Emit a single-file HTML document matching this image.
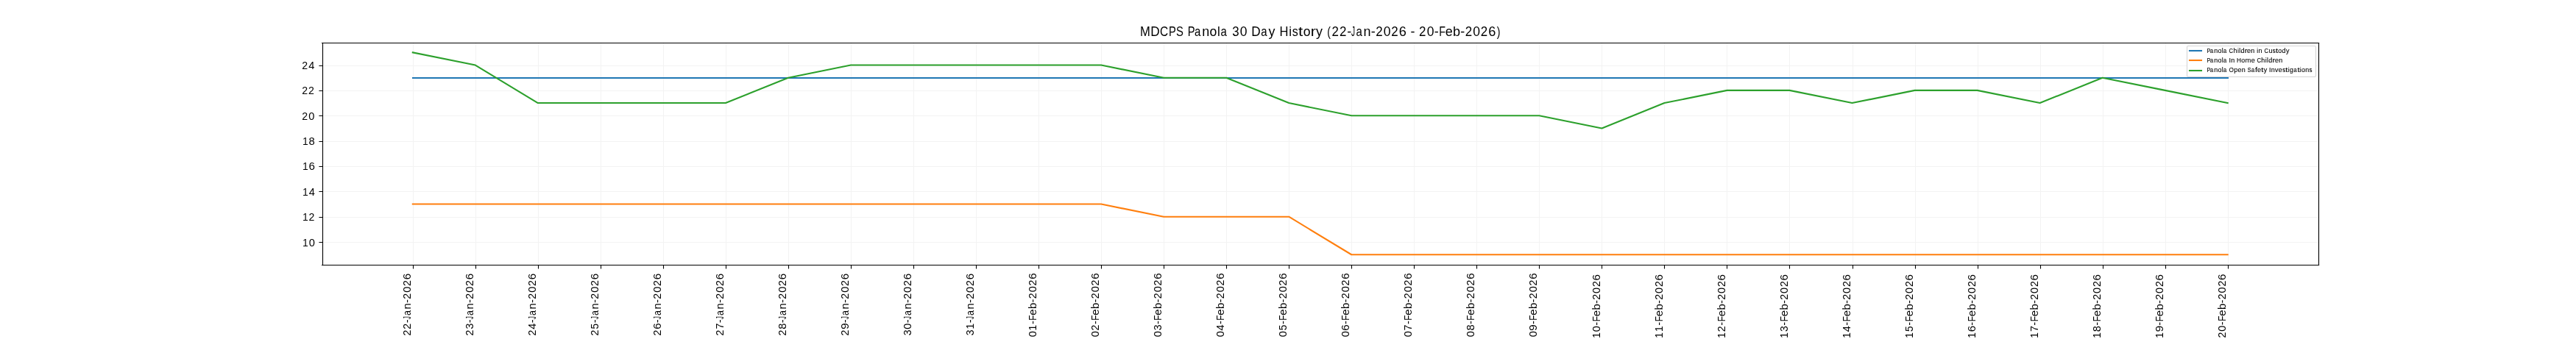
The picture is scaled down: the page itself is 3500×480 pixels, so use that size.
<!DOCTYPE html><html><head><meta charset="utf-8"><style>html,body{margin:0;padding:0;background:#fff;width:3500px;height:480px;overflow:hidden}svg{display:block;will-change:transform}text{font-family:"Liberation Sans",sans-serif;fill:#000}</style></head><body>
<svg width="3500" height="480" viewBox="0 0 3500 480">
<rect x="0" y="0" width="3500" height="480" fill="#fff"/>
<path d="M561.5 57.6V360.0M646.5 57.6V360.0M731.5 57.6V360.0M816.5 57.6V360.0M901.5 57.6V360.0M986.5 57.6V360.0M1071.5 57.6V360.0M1156.5 57.6V360.0M1241.5 57.6V360.0M1326.5 57.6V360.0M1411.5 57.6V360.0M1496.5 57.6V360.0M1581.5 57.6V360.0M1666.5 57.6V360.0M1751.5 57.6V360.0M1836.5 57.6V360.0M1921.5 57.6V360.0M2006.5 57.6V360.0M2091.5 57.6V360.0M2176.5 57.6V360.0M2261.5 57.6V360.0M2346.5 57.6V360.0M2431.5 57.6V360.0M2517.5 57.6V360.0M2602.5 57.6V360.0M2687.5 57.6V360.0M2772.5 57.6V360.0M2857.5 57.6V360.0M2942.5 57.6V360.0M3027.5 57.6V360.0M437.5 329.5H3150.0M437.5 295.5H3150.0M437.5 260.5H3150.0M437.5 226.5H3150.0M437.5 192.5H3150.0M437.5 157.5H3150.0M437.5 123.5H3150.0M437.5 89.5H3150.0" stroke="#f3f3f3" stroke-width="1.11" fill="none"/>
<path d="M561.00 106.00 L646.00 106.00 L731.00 106.00 L816.00 106.00 L901.00 106.00 L986.00 106.00 L1071.00 106.00 L1156.00 106.00 L1241.00 106.00 L1326.00 106.00 L1411.00 106.00 L1496.00 106.00 L1581.00 106.00 L1666.00 106.00 L1751.00 106.00 L1836.00 106.00 L1921.00 106.00 L2006.00 106.00 L2091.00 106.00 L2176.00 106.00 L2261.00 106.00 L2346.00 106.00 L2431.00 106.00 L2517.00 106.00 L2602.00 106.00 L2687.00 106.00 L2772.00 106.00 L2857.00 106.00 L2942.00 106.00 L3027.00 106.00" stroke="#1f77b4" stroke-width="2.083" fill="none" stroke-linejoin="round" stroke-linecap="square"/>
<path d="M560.80 277.53 L645.83 277.53 L730.86 277.53 L815.89 277.53 L900.92 277.53 L985.95 277.53 L1070.98 277.53 L1156.01 277.53 L1241.05 277.53 L1326.08 277.53 L1411.11 277.53 L1496.14 277.53 L1581.17 294.71 L1666.20 294.71 L1751.23 294.71 L1836.27 346.25 L1921.30 346.25 L2006.33 346.25 L2091.36 346.25 L2176.39 346.25 L2261.42 346.25 L2346.45 346.25 L2431.49 346.25 L2516.52 346.25 L2601.55 346.25 L2686.58 346.25 L2771.61 346.25 L2856.64 346.25 L2941.67 346.25 L3026.70 346.25" stroke="#ff7f0e" stroke-width="2.083" fill="none" stroke-linejoin="round" stroke-linecap="square"/>
<path d="M560.80 71.35 L645.83 88.53 L730.86 140.07 L815.89 140.07 L900.92 140.07 L985.95 140.07 L1070.98 105.71 L1156.01 88.53 L1241.05 88.53 L1326.08 88.53 L1411.11 88.53 L1496.14 88.53 L1581.17 105.71 L1666.20 105.71 L1751.23 140.07 L1836.27 157.25 L1921.30 157.25 L2006.33 157.25 L2091.36 157.25 L2176.39 174.44 L2261.42 140.07 L2346.45 122.89 L2431.49 122.89 L2516.52 140.07 L2601.55 122.89 L2686.58 122.89 L2771.61 140.07 L2856.64 105.71 L2941.67 122.89 L3026.70 140.07" stroke="#2ca02c" stroke-width="2.083" fill="none" stroke-linejoin="round" stroke-linecap="square"/>
<path d="M437 58.5H3151.2M437 360.5H3151.2M438.5 57.9V361.1M3150.5 57.9V361.1" stroke="#000" stroke-width="1.11" fill="none"/>
<path d="M561.5 360.5V365.4M646.5 360.5V365.4M731.5 360.5V365.4M816.5 360.5V365.4M901.5 360.5V365.4M986.5 360.5V365.4M1071.5 360.5V365.4M1156.5 360.5V365.4M1241.5 360.5V365.4M1326.5 360.5V365.4M1411.5 360.5V365.4M1496.5 360.5V365.4M1581.5 360.5V365.4M1666.5 360.5V365.4M1751.5 360.5V365.4M1836.5 360.5V365.4M1921.5 360.5V365.4M2006.5 360.5V365.4M2091.5 360.5V365.4M2176.5 360.5V365.4M2261.5 360.5V365.4M2346.5 360.5V365.4M2431.5 360.5V365.4M2517.5 360.5V365.4M2602.5 360.5V365.4M2687.5 360.5V365.4M2772.5 360.5V365.4M2857.5 360.5V365.4M2942.5 360.5V365.4M3027.5 360.5V365.4M438 329.5H433.4M438 295.5H433.4M438 260.5H433.4M438 226.5H433.4M438 192.5H433.4M438 157.5H433.4M438 123.5H433.4M438 89.5H433.4" stroke="#000" stroke-width="1.11" fill="none"/>
<rect x="2971.5" y="62.5" width="175.0" height="42.0" rx="1.67" ry="1.67" fill="#fff" fill-opacity="0.8" stroke="#d6d6d6" stroke-width="1.11"/>
<path d="M2975 69.0H2991" stroke="#1f77b4" stroke-width="2.083" stroke-linecap="square"/>
<text transform="matrix(0.8844 0 0 1.0596 2998.395 72.000)" font-size="8.333" stroke="#000" stroke-width="0.1">P</text><text transform="matrix(0.8992 0 0 1.0596 3003.040 72.000)" font-size="8.333" stroke="#000" stroke-width="0.1">a</text><text transform="matrix(1.0782 0 0 1.0596 3008.150 72.000)" font-size="8.333" stroke="#000" stroke-width="0.1">n</text><text transform="matrix(1.0631 0 0 1.0596 3013.385 72.000)" font-size="8.333" stroke="#000" stroke-width="0.1">o</text><text transform="matrix(1.0222 0 0 1.0596 3018.633 72.000)" font-size="8.333" stroke="#000" stroke-width="0.1">l</text><text transform="matrix(0.8992 0 0 1.0596 3020.931 72.000)" font-size="8.333" stroke="#000" stroke-width="0.1">a</text><text transform="matrix(0.9283 0 0 1.0596 3028.618 72.000)" font-size="8.333" stroke="#000" stroke-width="0.1">C</text><text transform="matrix(1.0856 0 0 1.0596 3034.520 72.000)" font-size="8.333" stroke="#000" stroke-width="0.1">h</text><text transform="matrix(1.0222 0 0 1.0596 3039.914 72.000)" font-size="8.333" stroke="#000" stroke-width="0.1">i</text><text transform="matrix(1.0222 0 0 1.0596 3042.237 72.000)" font-size="8.333" stroke="#000" stroke-width="0.1">l</text><text transform="matrix(1.0869 0 0 1.0596 3044.432 72.000)" font-size="8.333" stroke="#000" stroke-width="0.1">d</text><text transform="matrix(1.2813 0 0 1.0596 3049.716 72.000)" font-size="8.333" stroke="#000" stroke-width="0.1">r</text><text transform="matrix(1.0801 0 0 1.0596 3053.064 72.000)" font-size="8.333" stroke="#000" stroke-width="0.1">e</text><text transform="matrix(1.0782 0 0 1.0596 3058.299 72.000)" font-size="8.333" stroke="#000" stroke-width="0.1">n</text><text transform="matrix(1.0222 0 0 1.0596 3066.325 72.000)" font-size="8.333" stroke="#000" stroke-width="0.1">i</text><text transform="matrix(1.0782 0 0 1.0596 3068.596 72.000)" font-size="8.333" stroke="#000" stroke-width="0.1">n</text><text transform="matrix(0.9283 0 0 1.0596 3076.481 72.000)" font-size="8.333" stroke="#000" stroke-width="0.1">C</text><text transform="matrix(1.0782 0 0 1.0596 3082.379 72.000)" font-size="8.333" stroke="#000" stroke-width="0.1">u</text><text transform="matrix(0.9586 0 0 1.0596 3087.791 72.000)" font-size="8.333" stroke="#000" stroke-width="0.1">s</text><text transform="matrix(1.3365 0 0 1.0596 3091.981 72.000)" font-size="8.333" stroke="#000" stroke-width="0.1">t</text><text transform="matrix(1.0631 0 0 1.0596 3095.297 72.000)" font-size="8.333" stroke="#000" stroke-width="0.1">o</text><text transform="matrix(1.0869 0 0 1.0596 3100.413 72.000)" font-size="8.333" stroke="#000" stroke-width="0.1">d</text><text transform="matrix(1.0739 0 0 1.0596 3105.876 72.000)" font-size="8.333" stroke="#000" stroke-width="0.1">y</text>
<path d="M2975 82.0H2991" stroke="#ff7f0e" stroke-width="2.083" stroke-linecap="square"/>
<text transform="matrix(0.8844 0 0 1.0596 2998.395 85.000)" font-size="8.333" stroke="#000" stroke-width="0.1">P</text><text transform="matrix(0.8992 0 0 1.0596 3003.040 85.000)" font-size="8.333" stroke="#000" stroke-width="0.1">a</text><text transform="matrix(1.0782 0 0 1.0596 3008.150 85.000)" font-size="8.333" stroke="#000" stroke-width="0.1">n</text><text transform="matrix(1.0631 0 0 1.0596 3013.385 85.000)" font-size="8.333" stroke="#000" stroke-width="0.1">o</text><text transform="matrix(1.0222 0 0 1.0596 3018.633 85.000)" font-size="8.333" stroke="#000" stroke-width="0.1">l</text><text transform="matrix(0.8992 0 0 1.0596 3020.931 85.000)" font-size="8.333" stroke="#000" stroke-width="0.1">a</text><text transform="matrix(1.0576 0 0 1.0596 3028.547 85.000)" font-size="8.333" stroke="#000" stroke-width="0.1">I</text><text transform="matrix(1.0782 0 0 1.0596 3031.173 85.000)" font-size="8.333" stroke="#000" stroke-width="0.1">n</text><text transform="matrix(0.9948 0 0 1.0596 3039.121 85.000)" font-size="8.333" stroke="#000" stroke-width="0.1">H</text><text transform="matrix(1.0631 0 0 1.0596 3045.368 85.000)" font-size="8.333" stroke="#000" stroke-width="0.1">o</text><text transform="matrix(1.1394 0 0 1.0596 3050.531 85.000)" font-size="8.333" stroke="#000" stroke-width="0.1">m</text><text transform="matrix(1.0801 0 0 1.0596 3058.640 85.000)" font-size="8.333" stroke="#000" stroke-width="0.1">e</text><text transform="matrix(0.9283 0 0 1.0596 3066.453 85.000)" font-size="8.333" stroke="#000" stroke-width="0.1">C</text><text transform="matrix(1.0856 0 0 1.0596 3072.355 85.000)" font-size="8.333" stroke="#000" stroke-width="0.1">h</text><text transform="matrix(1.0222 0 0 1.0596 3077.749 85.000)" font-size="8.333" stroke="#000" stroke-width="0.1">i</text><text transform="matrix(1.0222 0 0 1.0596 3080.071 85.000)" font-size="8.333" stroke="#000" stroke-width="0.1">l</text><text transform="matrix(1.0869 0 0 1.0596 3082.266 85.000)" font-size="8.333" stroke="#000" stroke-width="0.1">d</text><text transform="matrix(1.2812 0 0 1.0596 3087.551 85.000)" font-size="8.333" stroke="#000" stroke-width="0.1">r</text><text transform="matrix(1.0801 0 0 1.0596 3090.899 85.000)" font-size="8.333" stroke="#000" stroke-width="0.1">e</text><text transform="matrix(1.0782 0 0 1.0596 3096.134 85.000)" font-size="8.333" stroke="#000" stroke-width="0.1">n</text>
<path d="M2975 96.0H2991" stroke="#2ca02c" stroke-width="2.083" stroke-linecap="square"/>
<text transform="matrix(0.8844 0 0 1.0596 2998.395 98.000)" font-size="8.333" stroke="#000" stroke-width="0.1">P</text><text transform="matrix(0.8992 0 0 1.0596 3003.040 98.000)" font-size="8.333" stroke="#000" stroke-width="0.1">a</text><text transform="matrix(1.0782 0 0 1.0596 3008.150 98.000)" font-size="8.333" stroke="#000" stroke-width="0.1">n</text><text transform="matrix(1.0631 0 0 1.0596 3013.385 98.000)" font-size="8.333" stroke="#000" stroke-width="0.1">o</text><text transform="matrix(1.0222 0 0 1.0596 3018.633 98.000)" font-size="8.333" stroke="#000" stroke-width="0.1">l</text><text transform="matrix(0.8992 0 0 1.0596 3020.931 98.000)" font-size="8.333" stroke="#000" stroke-width="0.1">a</text><text transform="matrix(0.9886 0 0 1.0596 3028.620 98.000)" font-size="8.333" stroke="#000" stroke-width="0.1">O</text><text transform="matrix(1.0879 0 0 1.0596 3035.307 98.000)" font-size="8.333" stroke="#000" stroke-width="0.1">p</text><text transform="matrix(1.0801 0 0 1.0596 3040.528 98.000)" font-size="8.333" stroke="#000" stroke-width="0.1">e</text><text transform="matrix(1.0782 0 0 1.0596 3045.764 98.000)" font-size="8.333" stroke="#000" stroke-width="0.1">n</text><text transform="matrix(0.8914 0 0 1.0596 3053.786 98.000)" font-size="8.333" stroke="#000" stroke-width="0.1">S</text><text transform="matrix(0.8992 0 0 1.0596 3059.072 98.000)" font-size="8.333" stroke="#000" stroke-width="0.1">a</text><text transform="matrix(1.3131 0 0 1.0596 3064.058 98.000)" font-size="8.333" stroke="#000" stroke-width="0.1">f</text><text transform="matrix(1.0801 0 0 1.0596 3067.048 98.000)" font-size="8.333" stroke="#000" stroke-width="0.1">e</text><text transform="matrix(1.3365 0 0 1.0596 3072.178 98.000)" font-size="8.333" stroke="#000" stroke-width="0.1">t</text><text transform="matrix(1.0739 0 0 1.0596 3075.633 98.000)" font-size="8.333" stroke="#000" stroke-width="0.1">y</text><text transform="matrix(1.0576 0 0 1.0596 3083.030 98.000)" font-size="8.333" stroke="#000" stroke-width="0.1">I</text><text transform="matrix(1.0782 0 0 1.0596 3085.655 98.000)" font-size="8.333" stroke="#000" stroke-width="0.1">n</text><text transform="matrix(1.0792 0 0 1.0596 3091.021 98.000)" font-size="8.333" stroke="#000" stroke-width="0.1">v</text><text transform="matrix(1.0801 0 0 1.0596 3095.837 98.000)" font-size="8.333" stroke="#000" stroke-width="0.1">e</text><text transform="matrix(0.9586 0 0 1.0596 3101.141 98.000)" font-size="8.333" stroke="#000" stroke-width="0.1">s</text><text transform="matrix(1.3365 0 0 1.0596 3105.331 98.000)" font-size="8.333" stroke="#000" stroke-width="0.1">t</text><text transform="matrix(1.0222 0 0 1.0596 3108.775 98.000)" font-size="8.333" stroke="#000" stroke-width="0.1">i</text><text transform="matrix(1.0869 0 0 1.0596 3110.965 98.000)" font-size="8.333" stroke="#000" stroke-width="0.1">g</text><text transform="matrix(0.8992 0 0 1.0596 3116.384 98.000)" font-size="8.333" stroke="#000" stroke-width="0.1">a</text><text transform="matrix(1.3365 0 0 1.0596 3121.389 98.000)" font-size="8.333" stroke="#000" stroke-width="0.1">t</text><text transform="matrix(1.0222 0 0 1.0596 3124.834 98.000)" font-size="8.333" stroke="#000" stroke-width="0.1">i</text><text transform="matrix(1.0631 0 0 1.0596 3127.033 98.000)" font-size="8.333" stroke="#000" stroke-width="0.1">o</text><text transform="matrix(1.0782 0 0 1.0596 3132.229 98.000)" font-size="8.333" stroke="#000" stroke-width="0.1">n</text><text transform="matrix(0.9586 0 0 1.0596 3137.606 98.000)" font-size="8.333" stroke="#000" stroke-width="0.1">s</text>
<text transform="matrix(0.9971 0 0 1.0596 1549.037 49.000)" font-size="16.667">M</text><text transform="matrix(1.0346 0 0 1.0596 1563.329 49.000)" font-size="16.667">D</text><text transform="matrix(0.9283 0 0 1.0596 1576.060 49.000)" font-size="16.667">C</text><text transform="matrix(0.8844 0 0 1.0596 1587.945 49.000)" font-size="16.667">P</text><text transform="matrix(0.8914 0 0 1.0596 1597.967 49.000)" font-size="16.667">S</text><text transform="matrix(0.8844 0 0 1.0596 1613.808 49.000)" font-size="16.667">P</text><text transform="matrix(0.8992 0 0 1.0596 1623.021 49.000)" font-size="16.667">a</text><text transform="matrix(1.0782 0 0 1.0596 1633.164 49.000)" font-size="16.667">n</text><text transform="matrix(1.0631 0 0 1.0596 1643.556 49.000)" font-size="16.667">o</text><text transform="matrix(1.0222 0 0 1.0596 1653.975 49.000)" font-size="16.667">l</text><text transform="matrix(0.8992 0 0 1.0596 1658.535 49.000)" font-size="16.667">a</text><text transform="matrix(1.0124 0 0 1.0596 1674.270 49.000)" font-size="16.667">3</text><text transform="matrix(1.0541 0 0 1.0596 1684.633 49.000)" font-size="16.667">0</text><text transform="matrix(1.0346 0 0 1.0596 1700.304 49.000)" font-size="16.667">D</text><text transform="matrix(0.8992 0 0 1.0596 1713.249 49.000)" font-size="16.667">a</text><text transform="matrix(1.0739 0 0 1.0596 1723.525 49.000)" font-size="16.667">y</text><text transform="matrix(0.9948 0 0 1.0596 1738.471 49.000)" font-size="16.667">H</text><text transform="matrix(1.0222 0 0 1.0596 1751.127 49.000)" font-size="16.667">i</text><text transform="matrix(0.9586 0 0 1.0596 1755.774 49.000)" font-size="16.667">s</text><text transform="matrix(1.3365 0 0 1.0596 1764.087 49.000)" font-size="16.667">t</text><text transform="matrix(1.0631 0 0 1.0596 1770.671 49.000)" font-size="16.667">o</text><text transform="matrix(1.2812 0 0 1.0596 1780.762 49.000)" font-size="16.667">r</text><text transform="matrix(1.0739 0 0 1.0596 1787.955 49.000)" font-size="16.667">y</text><text transform="matrix(0.8453 0 0 1.0596 1803.184 49.000)" font-size="16.667">(</text><text transform="matrix(1.0161 0 0 1.0596 1809.480 49.000)" font-size="16.667">2</text><text transform="matrix(1.0161 0 0 1.0596 1820.058 49.000)" font-size="16.667">2</text><text transform="matrix(1.0780 0 0 1.0596 1830.281 49.000)" font-size="16.667">-</text><text transform="matrix(0.6060 0 0 1.0596 1836.119 49.000)" font-size="16.667">J</text><text transform="matrix(0.8992 0 0 1.0596 1842.407 49.000)" font-size="16.667">a</text><text transform="matrix(1.0782 0 0 1.0596 1852.551 49.000)" font-size="16.667">n</text><text transform="matrix(1.0780 0 0 1.0596 1862.783 49.000)" font-size="16.667">-</text><text transform="matrix(1.0161 0 0 1.0596 1869.135 49.000)" font-size="16.667">2</text><text transform="matrix(1.0541 0 0 1.0596 1879.756 49.000)" font-size="16.667">0</text><text transform="matrix(1.0161 0 0 1.0596 1890.290 49.000)" font-size="16.667">2</text><text transform="matrix(1.0910 0 0 1.0596 1900.739 49.000)" font-size="16.667">6</text><text transform="matrix(1.0780 0 0 1.0596 1916.376 49.000)" font-size="16.667">-</text><text transform="matrix(1.0161 0 0 1.0596 1928.013 49.000)" font-size="16.667">2</text><text transform="matrix(1.0541 0 0 1.0596 1938.633 49.000)" font-size="16.667">0</text><text transform="matrix(1.0780 0 0 1.0596 1948.814 49.000)" font-size="16.667">-</text><text transform="matrix(0.8571 0 0 1.0596 1955.261 49.000)" font-size="16.667">F</text><text transform="matrix(1.0801 0 0 1.0596 1963.640 49.000)" font-size="16.667">e</text><text transform="matrix(1.0879 0 0 1.0596 1974.058 49.000)" font-size="16.667">b</text><text transform="matrix(1.0780 0 0 1.0596 1984.282 49.000)" font-size="16.667">-</text><text transform="matrix(1.0161 0 0 1.0596 1990.634 49.000)" font-size="16.667">2</text><text transform="matrix(1.0541 0 0 1.0596 2001.255 49.000)" font-size="16.667">0</text><text transform="matrix(1.0161 0 0 1.0596 2011.789 49.000)" font-size="16.667">2</text><text transform="matrix(1.0910 0 0 1.0596 2022.238 49.000)" font-size="16.667">6</text><text transform="matrix(0.8453 0 0 1.0596 2033.827 49.000)" font-size="16.667">)</text>
<text transform="matrix(1.0068 0 0 1.0596 410.935 335.000)" font-size="13.889">1</text><text transform="matrix(1.0541 0 0 1.0596 419.645 335.000)" font-size="13.889">0</text>
<text transform="matrix(1.0068 0 0 1.0596 410.935 300.000)" font-size="13.889">1</text><text transform="matrix(1.0161 0 0 1.0596 419.609 300.000)" font-size="13.889">2</text>
<text transform="matrix(1.0068 0 0 1.0596 410.935 266.000)" font-size="13.889">1</text><text transform="matrix(1.0543 0 0 1.0596 419.644 266.000)" font-size="13.889">4</text>
<text transform="matrix(1.0068 0 0 1.0596 410.935 231.000)" font-size="13.889">1</text><text transform="matrix(1.0910 0 0 1.0596 419.502 231.000)" font-size="13.889">6</text>
<text transform="matrix(1.0068 0 0 1.0596 410.935 197.000)" font-size="13.889">1</text><text transform="matrix(1.0656 0 0 1.0596 419.601 197.000)" font-size="13.889">8</text>
<text transform="matrix(1.0161 0 0 1.0596 410.290 163.000)" font-size="13.889">2</text><text transform="matrix(1.0541 0 0 1.0596 419.154 163.000)" font-size="13.889">0</text>
<text transform="matrix(1.0161 0 0 1.0596 410.290 128.000)" font-size="13.889">2</text><text transform="matrix(1.0161 0 0 1.0596 419.118 128.000)" font-size="13.889">2</text>
<text transform="matrix(1.0161 0 0 1.0596 410.290 94.000)" font-size="13.889">2</text><text transform="matrix(1.0543 0 0 1.0596 419.153 94.000)" font-size="13.889">4</text>
<text transform="matrix(0 -1.0161 1.0596 0 558.000 456.510)" font-size="13.889">2</text><text transform="matrix(0 -1.0161 1.0596 0 558.000 447.682)" font-size="13.889">2</text><text transform="matrix(0 -1.0780 1.0596 0 558.000 439.149)" font-size="13.889">-</text><text transform="matrix(0 -0.6060 1.0596 0 558.000 434.256)" font-size="13.889">J</text><text transform="matrix(0 -0.8992 1.0596 0 558.000 429.010)" font-size="13.889">a</text><text transform="matrix(0 -1.0782 1.0596 0 558.000 420.544)" font-size="13.889">n</text><text transform="matrix(0 -1.0780 1.0596 0 558.000 412.004)" font-size="13.889">-</text><text transform="matrix(0 -1.0161 1.0596 0 558.000 406.703)" font-size="13.889">2</text><text transform="matrix(0 -1.0541 1.0596 0 558.000 397.839)" font-size="13.889">0</text><text transform="matrix(0 -1.0161 1.0596 0 558.000 389.047)" font-size="13.889">2</text><text transform="matrix(0 -1.0910 1.0596 0 558.000 380.327)" font-size="13.889">6</text>
<text transform="matrix(0 -1.0161 1.0596 0 643.000 456.510)" font-size="13.889">2</text><text transform="matrix(0 -1.0124 1.0596 0 643.000 447.467)" font-size="13.889">3</text><text transform="matrix(0 -1.0780 1.0596 0 643.000 439.149)" font-size="13.889">-</text><text transform="matrix(0 -0.6060 1.0596 0 643.000 434.256)" font-size="13.889">J</text><text transform="matrix(0 -0.8992 1.0596 0 643.000 429.010)" font-size="13.889">a</text><text transform="matrix(0 -1.0782 1.0596 0 643.000 420.544)" font-size="13.889">n</text><text transform="matrix(0 -1.0780 1.0596 0 643.000 412.004)" font-size="13.889">-</text><text transform="matrix(0 -1.0161 1.0596 0 643.000 406.703)" font-size="13.889">2</text><text transform="matrix(0 -1.0541 1.0596 0 643.000 397.839)" font-size="13.889">0</text><text transform="matrix(0 -1.0161 1.0596 0 643.000 389.047)" font-size="13.889">2</text><text transform="matrix(0 -1.0910 1.0596 0 643.000 380.327)" font-size="13.889">6</text>
<text transform="matrix(0 -1.0161 1.0596 0 728.000 456.510)" font-size="13.889">2</text><text transform="matrix(0 -1.0543 1.0596 0 728.000 447.647)" font-size="13.889">4</text><text transform="matrix(0 -1.0780 1.0596 0 728.000 439.149)" font-size="13.889">-</text><text transform="matrix(0 -0.6060 1.0596 0 728.000 434.256)" font-size="13.889">J</text><text transform="matrix(0 -0.8992 1.0596 0 728.000 429.010)" font-size="13.889">a</text><text transform="matrix(0 -1.0782 1.0596 0 728.000 420.544)" font-size="13.889">n</text><text transform="matrix(0 -1.0780 1.0596 0 728.000 412.004)" font-size="13.889">-</text><text transform="matrix(0 -1.0161 1.0596 0 728.000 406.703)" font-size="13.889">2</text><text transform="matrix(0 -1.0541 1.0596 0 728.000 397.839)" font-size="13.889">0</text><text transform="matrix(0 -1.0161 1.0596 0 728.000 389.047)" font-size="13.889">2</text><text transform="matrix(0 -1.0910 1.0596 0 728.000 380.327)" font-size="13.889">6</text>
<text transform="matrix(0 -1.0161 1.0596 0 813.000 456.510)" font-size="13.889">2</text><text transform="matrix(0 -0.9949 1.0596 0 813.000 447.471)" font-size="13.889">5</text><text transform="matrix(0 -1.0780 1.0596 0 813.000 439.149)" font-size="13.889">-</text><text transform="matrix(0 -0.6060 1.0596 0 813.000 434.256)" font-size="13.889">J</text><text transform="matrix(0 -0.8992 1.0596 0 813.000 429.010)" font-size="13.889">a</text><text transform="matrix(0 -1.0782 1.0596 0 813.000 420.544)" font-size="13.889">n</text><text transform="matrix(0 -1.0780 1.0596 0 813.000 412.004)" font-size="13.889">-</text><text transform="matrix(0 -1.0161 1.0596 0 813.000 406.703)" font-size="13.889">2</text><text transform="matrix(0 -1.0541 1.0596 0 813.000 397.839)" font-size="13.889">0</text><text transform="matrix(0 -1.0161 1.0596 0 813.000 389.047)" font-size="13.889">2</text><text transform="matrix(0 -1.0910 1.0596 0 813.000 380.327)" font-size="13.889">6</text>
<text transform="matrix(0 -1.0161 1.0596 0 898.000 456.510)" font-size="13.889">2</text><text transform="matrix(0 -1.0910 1.0596 0 898.000 447.789)" font-size="13.889">6</text><text transform="matrix(0 -1.0780 1.0596 0 898.000 439.149)" font-size="13.889">-</text><text transform="matrix(0 -0.6060 1.0596 0 898.000 434.256)" font-size="13.889">J</text><text transform="matrix(0 -0.8992 1.0596 0 898.000 429.010)" font-size="13.889">a</text><text transform="matrix(0 -1.0782 1.0596 0 898.000 420.544)" font-size="13.889">n</text><text transform="matrix(0 -1.0780 1.0596 0 898.000 412.004)" font-size="13.889">-</text><text transform="matrix(0 -1.0161 1.0596 0 898.000 406.703)" font-size="13.889">2</text><text transform="matrix(0 -1.0541 1.0596 0 898.000 397.839)" font-size="13.889">0</text><text transform="matrix(0 -1.0161 1.0596 0 898.000 389.047)" font-size="13.889">2</text><text transform="matrix(0 -1.0910 1.0596 0 898.000 380.327)" font-size="13.889">6</text>
<text transform="matrix(0 -1.0161 1.0596 0 983.000 456.510)" font-size="13.889">2</text><text transform="matrix(0 -1.0311 1.0596 0 983.000 447.584)" font-size="13.889">7</text><text transform="matrix(0 -1.0780 1.0596 0 983.000 439.149)" font-size="13.889">-</text><text transform="matrix(0 -0.6060 1.0596 0 983.000 434.256)" font-size="13.889">J</text><text transform="matrix(0 -0.8992 1.0596 0 983.000 429.010)" font-size="13.889">a</text><text transform="matrix(0 -1.0782 1.0596 0 983.000 420.544)" font-size="13.889">n</text><text transform="matrix(0 -1.0780 1.0596 0 983.000 412.004)" font-size="13.889">-</text><text transform="matrix(0 -1.0161 1.0596 0 983.000 406.703)" font-size="13.889">2</text><text transform="matrix(0 -1.0541 1.0596 0 983.000 397.839)" font-size="13.889">0</text><text transform="matrix(0 -1.0161 1.0596 0 983.000 389.047)" font-size="13.889">2</text><text transform="matrix(0 -1.0910 1.0596 0 983.000 380.327)" font-size="13.889">6</text>
<text transform="matrix(0 -1.0161 1.0596 0 1068.000 456.510)" font-size="13.889">2</text><text transform="matrix(0 -1.0656 1.0596 0 1068.000 447.690)" font-size="13.889">8</text><text transform="matrix(0 -1.0780 1.0596 0 1068.000 439.149)" font-size="13.889">-</text><text transform="matrix(0 -0.6060 1.0596 0 1068.000 434.256)" font-size="13.889">J</text><text transform="matrix(0 -0.8992 1.0596 0 1068.000 429.010)" font-size="13.889">a</text><text transform="matrix(0 -1.0782 1.0596 0 1068.000 420.544)" font-size="13.889">n</text><text transform="matrix(0 -1.0780 1.0596 0 1068.000 412.004)" font-size="13.889">-</text><text transform="matrix(0 -1.0161 1.0596 0 1068.000 406.703)" font-size="13.889">2</text><text transform="matrix(0 -1.0541 1.0596 0 1068.000 397.839)" font-size="13.889">0</text><text transform="matrix(0 -1.0161 1.0596 0 1068.000 389.047)" font-size="13.889">2</text><text transform="matrix(0 -1.0910 1.0596 0 1068.000 380.327)" font-size="13.889">6</text>
<text transform="matrix(0 -1.0161 1.0596 0 1153.000 456.510)" font-size="13.889">2</text><text transform="matrix(0 -1.0888 1.0596 0 1153.000 447.824)" font-size="13.889">9</text><text transform="matrix(0 -1.0780 1.0596 0 1153.000 439.149)" font-size="13.889">-</text><text transform="matrix(0 -0.6060 1.0596 0 1153.000 434.256)" font-size="13.889">J</text><text transform="matrix(0 -0.8992 1.0596 0 1153.000 429.010)" font-size="13.889">a</text><text transform="matrix(0 -1.0782 1.0596 0 1153.000 420.544)" font-size="13.889">n</text><text transform="matrix(0 -1.0780 1.0596 0 1153.000 412.004)" font-size="13.889">-</text><text transform="matrix(0 -1.0161 1.0596 0 1153.000 406.703)" font-size="13.889">2</text><text transform="matrix(0 -1.0541 1.0596 0 1153.000 397.839)" font-size="13.889">0</text><text transform="matrix(0 -1.0161 1.0596 0 1153.000 389.047)" font-size="13.889">2</text><text transform="matrix(0 -1.0910 1.0596 0 1153.000 380.327)" font-size="13.889">6</text>
<text transform="matrix(0 -1.0124 1.0596 0 1238.000 456.336)" font-size="13.889">3</text><text transform="matrix(0 -1.0541 1.0596 0 1238.000 447.687)" font-size="13.889">0</text><text transform="matrix(0 -1.0780 1.0596 0 1238.000 439.190)" font-size="13.889">-</text><text transform="matrix(0 -0.6060 1.0596 0 1238.000 434.296)" font-size="13.889">J</text><text transform="matrix(0 -0.8992 1.0596 0 1238.000 429.050)" font-size="13.889">a</text><text transform="matrix(0 -1.0782 1.0596 0 1238.000 420.584)" font-size="13.889">n</text><text transform="matrix(0 -1.0780 1.0596 0 1238.000 412.045)" font-size="13.889">-</text><text transform="matrix(0 -1.0161 1.0596 0 1238.000 406.743)" font-size="13.889">2</text><text transform="matrix(0 -1.0541 1.0596 0 1238.000 397.880)" font-size="13.889">0</text><text transform="matrix(0 -1.0161 1.0596 0 1238.000 389.088)" font-size="13.889">2</text><text transform="matrix(0 -1.0910 1.0596 0 1238.000 380.367)" font-size="13.889">6</text>
<text transform="matrix(0 -1.0124 1.0596 0 1323.000 456.336)" font-size="13.889">3</text><text transform="matrix(0 -1.0068 1.0596 0 1323.000 447.569)" font-size="13.889">1</text><text transform="matrix(0 -1.0780 1.0596 0 1323.000 439.190)" font-size="13.889">-</text><text transform="matrix(0 -0.6060 1.0596 0 1323.000 434.296)" font-size="13.889">J</text><text transform="matrix(0 -0.8992 1.0596 0 1323.000 429.050)" font-size="13.889">a</text><text transform="matrix(0 -1.0782 1.0596 0 1323.000 420.584)" font-size="13.889">n</text><text transform="matrix(0 -1.0780 1.0596 0 1323.000 412.045)" font-size="13.889">-</text><text transform="matrix(0 -1.0161 1.0596 0 1323.000 406.743)" font-size="13.889">2</text><text transform="matrix(0 -1.0541 1.0596 0 1323.000 397.880)" font-size="13.889">0</text><text transform="matrix(0 -1.0161 1.0596 0 1323.000 389.088)" font-size="13.889">2</text><text transform="matrix(0 -1.0910 1.0596 0 1323.000 380.367)" font-size="13.889">6</text>
<text transform="matrix(0 -1.0541 1.0596 0 1408.000 458.372)" font-size="13.889">0</text><text transform="matrix(0 -1.0068 1.0596 0 1408.000 449.427)" font-size="13.889">1</text><text transform="matrix(0 -1.0780 1.0596 0 1408.000 441.047)" font-size="13.889">-</text><text transform="matrix(0 -0.8571 1.0596 0 1408.000 435.667)" font-size="13.889">F</text><text transform="matrix(0 -1.0801 1.0596 0 1408.000 428.694)" font-size="13.889">e</text><text transform="matrix(0 -1.0879 1.0596 0 1408.000 419.999)" font-size="13.889">b</text><text transform="matrix(0 -1.0780 1.0596 0 1408.000 411.466)" font-size="13.889">-</text><text transform="matrix(0 -1.0161 1.0596 0 1408.000 406.165)" font-size="13.889">2</text><text transform="matrix(0 -1.0541 1.0596 0 1408.000 397.301)" font-size="13.889">0</text><text transform="matrix(0 -1.0161 1.0596 0 1408.000 388.509)" font-size="13.889">2</text><text transform="matrix(0 -1.0910 1.0596 0 1408.000 379.789)" font-size="13.889">6</text>
<text transform="matrix(0 -1.0541 1.0596 0 1493.000 458.372)" font-size="13.889">0</text><text transform="matrix(0 -1.0161 1.0596 0 1493.000 449.580)" font-size="13.889">2</text><text transform="matrix(0 -1.0780 1.0596 0 1493.000 441.047)" font-size="13.889">-</text><text transform="matrix(0 -0.8571 1.0596 0 1493.000 435.667)" font-size="13.889">F</text><text transform="matrix(0 -1.0801 1.0596 0 1493.000 428.694)" font-size="13.889">e</text><text transform="matrix(0 -1.0879 1.0596 0 1493.000 419.999)" font-size="13.889">b</text><text transform="matrix(0 -1.0780 1.0596 0 1493.000 411.466)" font-size="13.889">-</text><text transform="matrix(0 -1.0161 1.0596 0 1493.000 406.165)" font-size="13.889">2</text><text transform="matrix(0 -1.0541 1.0596 0 1493.000 397.301)" font-size="13.889">0</text><text transform="matrix(0 -1.0161 1.0596 0 1493.000 388.509)" font-size="13.889">2</text><text transform="matrix(0 -1.0910 1.0596 0 1493.000 379.789)" font-size="13.889">6</text>
<text transform="matrix(0 -1.0541 1.0596 0 1578.000 458.372)" font-size="13.889">0</text><text transform="matrix(0 -1.0124 1.0596 0 1578.000 449.365)" font-size="13.889">3</text><text transform="matrix(0 -1.0780 1.0596 0 1578.000 441.047)" font-size="13.889">-</text><text transform="matrix(0 -0.8571 1.0596 0 1578.000 435.667)" font-size="13.889">F</text><text transform="matrix(0 -1.0801 1.0596 0 1578.000 428.694)" font-size="13.889">e</text><text transform="matrix(0 -1.0879 1.0596 0 1578.000 419.999)" font-size="13.889">b</text><text transform="matrix(0 -1.0780 1.0596 0 1578.000 411.466)" font-size="13.889">-</text><text transform="matrix(0 -1.0161 1.0596 0 1578.000 406.165)" font-size="13.889">2</text><text transform="matrix(0 -1.0541 1.0596 0 1578.000 397.301)" font-size="13.889">0</text><text transform="matrix(0 -1.0161 1.0596 0 1578.000 388.509)" font-size="13.889">2</text><text transform="matrix(0 -1.0910 1.0596 0 1578.000 379.789)" font-size="13.889">6</text>
<text transform="matrix(0 -1.0541 1.0596 0 1663.000 458.372)" font-size="13.889">0</text><text transform="matrix(0 -1.0543 1.0596 0 1663.000 449.546)" font-size="13.889">4</text><text transform="matrix(0 -1.0780 1.0596 0 1663.000 441.047)" font-size="13.889">-</text><text transform="matrix(0 -0.8571 1.0596 0 1663.000 435.667)" font-size="13.889">F</text><text transform="matrix(0 -1.0801 1.0596 0 1663.000 428.694)" font-size="13.889">e</text><text transform="matrix(0 -1.0879 1.0596 0 1663.000 419.999)" font-size="13.889">b</text><text transform="matrix(0 -1.0780 1.0596 0 1663.000 411.466)" font-size="13.889">-</text><text transform="matrix(0 -1.0161 1.0596 0 1663.000 406.165)" font-size="13.889">2</text><text transform="matrix(0 -1.0541 1.0596 0 1663.000 397.301)" font-size="13.889">0</text><text transform="matrix(0 -1.0161 1.0596 0 1663.000 388.509)" font-size="13.889">2</text><text transform="matrix(0 -1.0910 1.0596 0 1663.000 379.789)" font-size="13.889">6</text>
<text transform="matrix(0 -1.0541 1.0596 0 1748.000 458.372)" font-size="13.889">0</text><text transform="matrix(0 -0.9949 1.0596 0 1748.000 449.370)" font-size="13.889">5</text><text transform="matrix(0 -1.0780 1.0596 0 1748.000 441.047)" font-size="13.889">-</text><text transform="matrix(0 -0.8571 1.0596 0 1748.000 435.667)" font-size="13.889">F</text><text transform="matrix(0 -1.0801 1.0596 0 1748.000 428.694)" font-size="13.889">e</text><text transform="matrix(0 -1.0879 1.0596 0 1748.000 419.999)" font-size="13.889">b</text><text transform="matrix(0 -1.0780 1.0596 0 1748.000 411.466)" font-size="13.889">-</text><text transform="matrix(0 -1.0161 1.0596 0 1748.000 406.165)" font-size="13.889">2</text><text transform="matrix(0 -1.0541 1.0596 0 1748.000 397.301)" font-size="13.889">0</text><text transform="matrix(0 -1.0161 1.0596 0 1748.000 388.509)" font-size="13.889">2</text><text transform="matrix(0 -1.0910 1.0596 0 1748.000 379.789)" font-size="13.889">6</text>
<text transform="matrix(0 -1.0541 1.0596 0 1833.000 458.372)" font-size="13.889">0</text><text transform="matrix(0 -1.0910 1.0596 0 1833.000 449.688)" font-size="13.889">6</text><text transform="matrix(0 -1.0780 1.0596 0 1833.000 441.047)" font-size="13.889">-</text><text transform="matrix(0 -0.8571 1.0596 0 1833.000 435.667)" font-size="13.889">F</text><text transform="matrix(0 -1.0801 1.0596 0 1833.000 428.694)" font-size="13.889">e</text><text transform="matrix(0 -1.0879 1.0596 0 1833.000 419.999)" font-size="13.889">b</text><text transform="matrix(0 -1.0780 1.0596 0 1833.000 411.466)" font-size="13.889">-</text><text transform="matrix(0 -1.0161 1.0596 0 1833.000 406.165)" font-size="13.889">2</text><text transform="matrix(0 -1.0541 1.0596 0 1833.000 397.301)" font-size="13.889">0</text><text transform="matrix(0 -1.0161 1.0596 0 1833.000 388.509)" font-size="13.889">2</text><text transform="matrix(0 -1.0910 1.0596 0 1833.000 379.789)" font-size="13.889">6</text>
<text transform="matrix(0 -1.0541 1.0596 0 1918.000 458.372)" font-size="13.889">0</text><text transform="matrix(0 -1.0311 1.0596 0 1918.000 449.483)" font-size="13.889">7</text><text transform="matrix(0 -1.0780 1.0596 0 1918.000 441.047)" font-size="13.889">-</text><text transform="matrix(0 -0.8571 1.0596 0 1918.000 435.667)" font-size="13.889">F</text><text transform="matrix(0 -1.0801 1.0596 0 1918.000 428.694)" font-size="13.889">e</text><text transform="matrix(0 -1.0879 1.0596 0 1918.000 419.999)" font-size="13.889">b</text><text transform="matrix(0 -1.0780 1.0596 0 1918.000 411.466)" font-size="13.889">-</text><text transform="matrix(0 -1.0161 1.0596 0 1918.000 406.165)" font-size="13.889">2</text><text transform="matrix(0 -1.0541 1.0596 0 1918.000 397.301)" font-size="13.889">0</text><text transform="matrix(0 -1.0161 1.0596 0 1918.000 388.509)" font-size="13.889">2</text><text transform="matrix(0 -1.0910 1.0596 0 1918.000 379.789)" font-size="13.889">6</text>
<text transform="matrix(0 -1.0541 1.0596 0 2003.000 458.372)" font-size="13.889">0</text><text transform="matrix(0 -1.0656 1.0596 0 2003.000 449.588)" font-size="13.889">8</text><text transform="matrix(0 -1.0780 1.0596 0 2003.000 441.047)" font-size="13.889">-</text><text transform="matrix(0 -0.8571 1.0596 0 2003.000 435.667)" font-size="13.889">F</text><text transform="matrix(0 -1.0801 1.0596 0 2003.000 428.694)" font-size="13.889">e</text><text transform="matrix(0 -1.0879 1.0596 0 2003.000 419.999)" font-size="13.889">b</text><text transform="matrix(0 -1.0780 1.0596 0 2003.000 411.466)" font-size="13.889">-</text><text transform="matrix(0 -1.0161 1.0596 0 2003.000 406.165)" font-size="13.889">2</text><text transform="matrix(0 -1.0541 1.0596 0 2003.000 397.301)" font-size="13.889">0</text><text transform="matrix(0 -1.0161 1.0596 0 2003.000 388.509)" font-size="13.889">2</text><text transform="matrix(0 -1.0910 1.0596 0 2003.000 379.789)" font-size="13.889">6</text>
<text transform="matrix(0 -1.0541 1.0596 0 2088.000 458.372)" font-size="13.889">0</text><text transform="matrix(0 -1.0888 1.0596 0 2088.000 449.722)" font-size="13.889">9</text><text transform="matrix(0 -1.0780 1.0596 0 2088.000 441.047)" font-size="13.889">-</text><text transform="matrix(0 -0.8571 1.0596 0 2088.000 435.667)" font-size="13.889">F</text><text transform="matrix(0 -1.0801 1.0596 0 2088.000 428.694)" font-size="13.889">e</text><text transform="matrix(0 -1.0879 1.0596 0 2088.000 419.999)" font-size="13.889">b</text><text transform="matrix(0 -1.0780 1.0596 0 2088.000 411.466)" font-size="13.889">-</text><text transform="matrix(0 -1.0161 1.0596 0 2088.000 406.165)" font-size="13.889">2</text><text transform="matrix(0 -1.0541 1.0596 0 2088.000 397.301)" font-size="13.889">0</text><text transform="matrix(0 -1.0161 1.0596 0 2088.000 388.509)" font-size="13.889">2</text><text transform="matrix(0 -1.0910 1.0596 0 2088.000 379.789)" font-size="13.889">6</text>
<text transform="matrix(0 -1.0068 1.0596 0 2174.000 459.865)" font-size="13.889">1</text><text transform="matrix(0 -1.0541 1.0596 0 2174.000 451.155)" font-size="13.889">0</text><text transform="matrix(0 -1.0780 1.0596 0 2174.000 442.658)" font-size="13.889">-</text><text transform="matrix(0 -0.8571 1.0596 0 2174.000 437.277)" font-size="13.889">F</text><text transform="matrix(0 -1.0801 1.0596 0 2174.000 430.304)" font-size="13.889">e</text><text transform="matrix(0 -1.0879 1.0596 0 2174.000 421.609)" font-size="13.889">b</text><text transform="matrix(0 -1.0780 1.0596 0 2174.000 413.076)" font-size="13.889">-</text><text transform="matrix(0 -1.0161 1.0596 0 2174.000 407.775)" font-size="13.889">2</text><text transform="matrix(0 -1.0541 1.0596 0 2174.000 398.911)" font-size="13.889">0</text><text transform="matrix(0 -1.0161 1.0596 0 2174.000 390.120)" font-size="13.889">2</text><text transform="matrix(0 -1.0910 1.0596 0 2174.000 381.399)" font-size="13.889">6</text>
<text transform="matrix(0 -1.0068 1.0596 0 2259.000 459.865)" font-size="13.889">1</text><text transform="matrix(0 -1.0068 1.0596 0 2259.000 451.037)" font-size="13.889">1</text><text transform="matrix(0 -1.0780 1.0596 0 2259.000 442.658)" font-size="13.889">-</text><text transform="matrix(0 -0.8571 1.0596 0 2259.000 437.277)" font-size="13.889">F</text><text transform="matrix(0 -1.0801 1.0596 0 2259.000 430.304)" font-size="13.889">e</text><text transform="matrix(0 -1.0879 1.0596 0 2259.000 421.609)" font-size="13.889">b</text><text transform="matrix(0 -1.0780 1.0596 0 2259.000 413.076)" font-size="13.889">-</text><text transform="matrix(0 -1.0161 1.0596 0 2259.000 407.775)" font-size="13.889">2</text><text transform="matrix(0 -1.0541 1.0596 0 2259.000 398.911)" font-size="13.889">0</text><text transform="matrix(0 -1.0161 1.0596 0 2259.000 390.120)" font-size="13.889">2</text><text transform="matrix(0 -1.0910 1.0596 0 2259.000 381.399)" font-size="13.889">6</text>
<text transform="matrix(0 -1.0068 1.0596 0 2344.000 459.865)" font-size="13.889">1</text><text transform="matrix(0 -1.0161 1.0596 0 2344.000 451.191)" font-size="13.889">2</text><text transform="matrix(0 -1.0780 1.0596 0 2344.000 442.658)" font-size="13.889">-</text><text transform="matrix(0 -0.8571 1.0596 0 2344.000 437.277)" font-size="13.889">F</text><text transform="matrix(0 -1.0801 1.0596 0 2344.000 430.304)" font-size="13.889">e</text><text transform="matrix(0 -1.0879 1.0596 0 2344.000 421.609)" font-size="13.889">b</text><text transform="matrix(0 -1.0780 1.0596 0 2344.000 413.076)" font-size="13.889">-</text><text transform="matrix(0 -1.0161 1.0596 0 2344.000 407.775)" font-size="13.889">2</text><text transform="matrix(0 -1.0541 1.0596 0 2344.000 398.911)" font-size="13.889">0</text><text transform="matrix(0 -1.0161 1.0596 0 2344.000 390.120)" font-size="13.889">2</text><text transform="matrix(0 -1.0910 1.0596 0 2344.000 381.399)" font-size="13.889">6</text>
<text transform="matrix(0 -1.0068 1.0596 0 2429.000 459.865)" font-size="13.889">1</text><text transform="matrix(0 -1.0124 1.0596 0 2429.000 450.976)" font-size="13.889">3</text><text transform="matrix(0 -1.0780 1.0596 0 2429.000 442.658)" font-size="13.889">-</text><text transform="matrix(0 -0.8571 1.0596 0 2429.000 437.277)" font-size="13.889">F</text><text transform="matrix(0 -1.0801 1.0596 0 2429.000 430.304)" font-size="13.889">e</text><text transform="matrix(0 -1.0879 1.0596 0 2429.000 421.609)" font-size="13.889">b</text><text transform="matrix(0 -1.0780 1.0596 0 2429.000 413.076)" font-size="13.889">-</text><text transform="matrix(0 -1.0161 1.0596 0 2429.000 407.775)" font-size="13.889">2</text><text transform="matrix(0 -1.0541 1.0596 0 2429.000 398.911)" font-size="13.889">0</text><text transform="matrix(0 -1.0161 1.0596 0 2429.000 390.120)" font-size="13.889">2</text><text transform="matrix(0 -1.0910 1.0596 0 2429.000 381.399)" font-size="13.889">6</text>
<text transform="matrix(0 -1.0068 1.0596 0 2514.000 459.865)" font-size="13.889">1</text><text transform="matrix(0 -1.0543 1.0596 0 2514.000 451.156)" font-size="13.889">4</text><text transform="matrix(0 -1.0780 1.0596 0 2514.000 442.658)" font-size="13.889">-</text><text transform="matrix(0 -0.8571 1.0596 0 2514.000 437.277)" font-size="13.889">F</text><text transform="matrix(0 -1.0801 1.0596 0 2514.000 430.304)" font-size="13.889">e</text><text transform="matrix(0 -1.0879 1.0596 0 2514.000 421.609)" font-size="13.889">b</text><text transform="matrix(0 -1.0780 1.0596 0 2514.000 413.076)" font-size="13.889">-</text><text transform="matrix(0 -1.0161 1.0596 0 2514.000 407.775)" font-size="13.889">2</text><text transform="matrix(0 -1.0541 1.0596 0 2514.000 398.911)" font-size="13.889">0</text><text transform="matrix(0 -1.0161 1.0596 0 2514.000 390.120)" font-size="13.889">2</text><text transform="matrix(0 -1.0910 1.0596 0 2514.000 381.399)" font-size="13.889">6</text>
<text transform="matrix(0 -1.0068 1.0596 0 2599.000 459.865)" font-size="13.889">1</text><text transform="matrix(0 -0.9949 1.0596 0 2599.000 450.980)" font-size="13.889">5</text><text transform="matrix(0 -1.0780 1.0596 0 2599.000 442.658)" font-size="13.889">-</text><text transform="matrix(0 -0.8571 1.0596 0 2599.000 437.277)" font-size="13.889">F</text><text transform="matrix(0 -1.0801 1.0596 0 2599.000 430.304)" font-size="13.889">e</text><text transform="matrix(0 -1.0879 1.0596 0 2599.000 421.609)" font-size="13.889">b</text><text transform="matrix(0 -1.0780 1.0596 0 2599.000 413.076)" font-size="13.889">-</text><text transform="matrix(0 -1.0161 1.0596 0 2599.000 407.775)" font-size="13.889">2</text><text transform="matrix(0 -1.0541 1.0596 0 2599.000 398.911)" font-size="13.889">0</text><text transform="matrix(0 -1.0161 1.0596 0 2599.000 390.120)" font-size="13.889">2</text><text transform="matrix(0 -1.0910 1.0596 0 2599.000 381.399)" font-size="13.889">6</text>
<text transform="matrix(0 -1.0068 1.0596 0 2684.000 459.865)" font-size="13.889">1</text><text transform="matrix(0 -1.0910 1.0596 0 2684.000 451.298)" font-size="13.889">6</text><text transform="matrix(0 -1.0780 1.0596 0 2684.000 442.658)" font-size="13.889">-</text><text transform="matrix(0 -0.8571 1.0596 0 2684.000 437.277)" font-size="13.889">F</text><text transform="matrix(0 -1.0801 1.0596 0 2684.000 430.304)" font-size="13.889">e</text><text transform="matrix(0 -1.0879 1.0596 0 2684.000 421.609)" font-size="13.889">b</text><text transform="matrix(0 -1.0780 1.0596 0 2684.000 413.076)" font-size="13.889">-</text><text transform="matrix(0 -1.0161 1.0596 0 2684.000 407.775)" font-size="13.889">2</text><text transform="matrix(0 -1.0541 1.0596 0 2684.000 398.911)" font-size="13.889">0</text><text transform="matrix(0 -1.0161 1.0596 0 2684.000 390.120)" font-size="13.889">2</text><text transform="matrix(0 -1.0910 1.0596 0 2684.000 381.399)" font-size="13.889">6</text>
<text transform="matrix(0 -1.0068 1.0596 0 2769.000 459.865)" font-size="13.889">1</text><text transform="matrix(0 -1.0311 1.0596 0 2769.000 451.093)" font-size="13.889">7</text><text transform="matrix(0 -1.0780 1.0596 0 2769.000 442.658)" font-size="13.889">-</text><text transform="matrix(0 -0.8571 1.0596 0 2769.000 437.277)" font-size="13.889">F</text><text transform="matrix(0 -1.0801 1.0596 0 2769.000 430.304)" font-size="13.889">e</text><text transform="matrix(0 -1.0879 1.0596 0 2769.000 421.609)" font-size="13.889">b</text><text transform="matrix(0 -1.0780 1.0596 0 2769.000 413.076)" font-size="13.889">-</text><text transform="matrix(0 -1.0161 1.0596 0 2769.000 407.775)" font-size="13.889">2</text><text transform="matrix(0 -1.0541 1.0596 0 2769.000 398.911)" font-size="13.889">0</text><text transform="matrix(0 -1.0161 1.0596 0 2769.000 390.120)" font-size="13.889">2</text><text transform="matrix(0 -1.0910 1.0596 0 2769.000 381.399)" font-size="13.889">6</text>
<text transform="matrix(0 -1.0068 1.0596 0 2854.000 459.865)" font-size="13.889">1</text><text transform="matrix(0 -1.0656 1.0596 0 2854.000 451.199)" font-size="13.889">8</text><text transform="matrix(0 -1.0780 1.0596 0 2854.000 442.658)" font-size="13.889">-</text><text transform="matrix(0 -0.8571 1.0596 0 2854.000 437.277)" font-size="13.889">F</text><text transform="matrix(0 -1.0801 1.0596 0 2854.000 430.304)" font-size="13.889">e</text><text transform="matrix(0 -1.0879 1.0596 0 2854.000 421.609)" font-size="13.889">b</text><text transform="matrix(0 -1.0780 1.0596 0 2854.000 413.076)" font-size="13.889">-</text><text transform="matrix(0 -1.0161 1.0596 0 2854.000 407.775)" font-size="13.889">2</text><text transform="matrix(0 -1.0541 1.0596 0 2854.000 398.911)" font-size="13.889">0</text><text transform="matrix(0 -1.0161 1.0596 0 2854.000 390.120)" font-size="13.889">2</text><text transform="matrix(0 -1.0910 1.0596 0 2854.000 381.399)" font-size="13.889">6</text>
<text transform="matrix(0 -1.0068 1.0596 0 2939.000 459.865)" font-size="13.889">1</text><text transform="matrix(0 -1.0888 1.0596 0 2939.000 451.332)" font-size="13.889">9</text><text transform="matrix(0 -1.0780 1.0596 0 2939.000 442.658)" font-size="13.889">-</text><text transform="matrix(0 -0.8571 1.0596 0 2939.000 437.277)" font-size="13.889">F</text><text transform="matrix(0 -1.0801 1.0596 0 2939.000 430.304)" font-size="13.889">e</text><text transform="matrix(0 -1.0879 1.0596 0 2939.000 421.609)" font-size="13.889">b</text><text transform="matrix(0 -1.0780 1.0596 0 2939.000 413.076)" font-size="13.889">-</text><text transform="matrix(0 -1.0161 1.0596 0 2939.000 407.775)" font-size="13.889">2</text><text transform="matrix(0 -1.0541 1.0596 0 2939.000 398.911)" font-size="13.889">0</text><text transform="matrix(0 -1.0161 1.0596 0 2939.000 390.120)" font-size="13.889">2</text><text transform="matrix(0 -1.0910 1.0596 0 2939.000 381.399)" font-size="13.889">6</text>
<text transform="matrix(0 -1.0161 1.0596 0 3024.000 459.510)" font-size="13.889">2</text><text transform="matrix(0 -1.0541 1.0596 0 3024.000 450.646)" font-size="13.889">0</text><text transform="matrix(0 -1.0780 1.0596 0 3024.000 442.149)" font-size="13.889">-</text><text transform="matrix(0 -0.8571 1.0596 0 3024.000 436.769)" font-size="13.889">F</text><text transform="matrix(0 -1.0801 1.0596 0 3024.000 429.795)" font-size="13.889">e</text><text transform="matrix(0 -1.0879 1.0596 0 3024.000 421.101)" font-size="13.889">b</text><text transform="matrix(0 -1.0780 1.0596 0 3024.000 412.568)" font-size="13.889">-</text><text transform="matrix(0 -1.0161 1.0596 0 3024.000 407.266)" font-size="13.889">2</text><text transform="matrix(0 -1.0541 1.0596 0 3024.000 398.403)" font-size="13.889">0</text><text transform="matrix(0 -1.0161 1.0596 0 3024.000 389.611)" font-size="13.889">2</text><text transform="matrix(0 -1.0910 1.0596 0 3024.000 380.891)" font-size="13.889">6</text>
</svg></body></html>
